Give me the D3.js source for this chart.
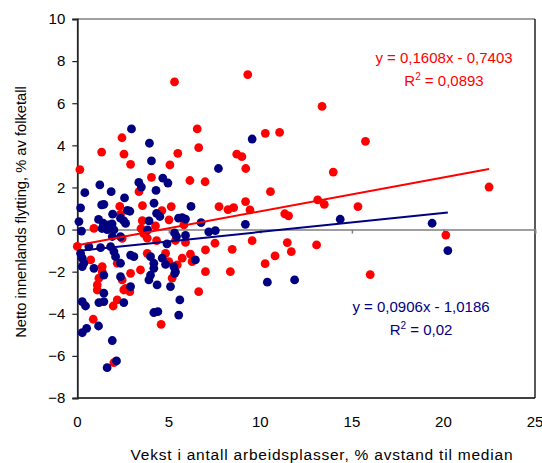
<!DOCTYPE html>
<html><head><meta charset="utf-8">
<script src="https://cdn.jsdelivr.net/npm/d3@7"></script>
<style>body{margin:0;background:#fff}svg{display:block;font-family:Arial,"Liberation Sans",sans-serif}</style>
</head><body>
<svg id="c" width="542" height="463"></svg>
<script>
const xTicks = [0,5,10,15,20,25];
const yTicks = [-8,-6,-4,-2,0,2,4,6,8,10];
const xLabel = "Vekst i antall arbeidsplasser, % avstand til median";
const yLabel = "Netto innenlands flytting, % av folketall";

const redX = [0.14,5.31,9.31,2.44,6.55,6.63,1.33,2.55,5.49,2.91,5.06,8.71,8.99,9.2,4.05,6.15,6.98,3.37,3.56,5.13,7.74,8.23,8.54,9.19,9.43,2.32,4.62,2.36,5.01,10.27,11.05,13.37,15.74,13.98,10.55,22.49,13.13,13.49,15.33,11.33,11.54,5.82,4.27,3.48,0.91,3.63,3.82,4.33,2.45,5.36,5.91,7.52,9.55,0.0,11.47,11.69,13.07,10.8,10.26,16.0,20.13,7.0,8.46,6.18,5.73,6.27,5.0,5.46,5.18,7.0,8.36,6.63,0.73,2.18,1.36,1.36,1.18,1.09,3.82,4.82,3.45,2.91,2.45,2.64,1.09,2.54,2.87,2.18,1.96,4.58,0.87,2.0,3.55];
const redY = [2.85,7.01,7.36,4.36,4.78,3.89,3.68,3.58,3.62,3.10,3.07,3.58,3.46,2.9,2.48,2.33,2.27,1.8,1.14,1.09,1.09,0.95,1.04,1.33,0.93,1.10,0.9,0.72,0.46,4.57,4.62,5.85,4.19,2.73,1.8,2.02,1.41,1.2,1.09,0.75,0.65,0.22,0.17,0.05,0.06,-0.19,-0.41,-0.53,-0.42,-0.52,-0.61,-0.65,-0.53,-0.8,-0.62,-1.05,-0.73,-1.25,-1.62,-2.14,-0.26,-0.97,-0.94,-1.17,-1.36,-1.52,-1.52,-1.68,-2.31,-2.0,-2.0,-2.95,-1.44,-1.6,-1.76,-2.0,-2.31,-2.63,-1.13,-1.13,-1.92,-2.08,-2.39,-2.79,-2.87,-2.87,-2.95,-3.34,-3.63,-4.5,-4.26,-6.32,0.42];

const blueX = [2.96,3.94,9.55,4.05,7.71,4.67,4.95,1.23,0.41,1.85,3.36,3.5,4.3,2.58,4.19,1.33,1.45,0.18,6.21,2.74,2.87,1.93,4.33,4.51,0.09,1.16,1.42,1.72,1.9,2.36,2.54,2.64,1.35,1.63,2.0,0.23,3.92,3.84,5.53,5.73,5.91,6.76,5.31,5.42,5.91,7.18,7.54,9.18,14.36,19.38,20.24,10.38,11.87,1.91,4.9,0.63,1.27,1.82,0.18,0.27,0.36,0.27,0.91,2.0,2.09,2.36,1.45,2.91,3.09,4.0,4.18,4.18,4.0,3.91,4.36,2.36,2.91,1.45,4.64,6.45,4.82,5.27,5.36,5.32,5.09,0.27,0.45,1.18,1.45,2.54,4.18,4.4,1.16,0.27,0.51,1.91,2.14,1.63,5.6,5.54,2.36];
const blueY = [4.78,4.1,4.3,3.26,2.9,2.44,2.21,2.12,1.75,1.8,2.24,2.02,1.86,1.5,1.25,1.17,1.2,1.03,1.1,0.91,0.87,0.73,0.77,0.62,0.38,0.48,0.3,0.22,0.27,0.54,0.41,0.29,0.05,0.0,-0.02,-0.07,0.41,-0.02,0.54,0.57,0.5,0.33,-0.16,-0.33,-0.28,-0.11,-0.05,0.25,0.49,0.3,-1.0,-2.5,-2.39,-0.33,-0.68,-0.81,-0.86,-0.81,-1.13,-1.36,-1.6,-1.76,-1.84,-1.05,-1.29,-1.6,-2.16,-1.21,-1.29,-1.29,-1.6,-1.84,-2.16,-2.39,-2.63,-2.24,-2.71,-3.02,-1.36,-1.44,-1.65,-1.76,-2.0,-2.08,-2.71,-3.42,-3.63,-3.47,-3.42,-3.47,-3.94,-3.9,-4.58,-4.9,-4.69,-5.27,-6.24,-6.56,-3.34,-4.06,-0.34];

const redFit = {slope:0.1608, intercept:-0.7403, eq:"y = 0,1608x - 0,7403", r2:"0,0893"};
const blueFit = {slope:0.0906, intercept:-1.0186, eq:"y = 0,0906x - 1,0186", r2:"0,02"};

const RED = "#ff0000", BLUE = "#000080";
const FS = 15;
const svg = d3.select("#c");
const L = 77.3, R = 535, T = 19, B = 398;
const x = d3.scaleLinear().domain([0,25]).range([L,R]);
const y = d3.scaleLinear().domain([-8,10]).range([B,T]);

// plot border
svg.append("line").attr("x1",L).attr("x2",R).attr("y1",T).attr("y2",T).attr("stroke","#808080").attr("stroke-width",1.5);
svg.append("line").attr("x1",R).attr("x2",R).attr("y1",T).attr("y2",B).attr("stroke","#000").attr("stroke-width",1.3);
svg.append("line").attr("x1",L).attr("x2",R).attr("y1",B).attr("y2",B).attr("stroke","#000").attr("stroke-width",1.3);

// zero line with ticks (x axis)
const xAxis = d3.axisBottom(x).tickValues(xTicks).tickSize(4).tickFormat("");
const gx = svg.append("g").attr("transform",`translate(0,${y(0)})`).call(xAxis);
gx.selectAll("path,line").attr("stroke","#808080").attr("stroke-width",1.5);
// x tick labels at bottom
svg.append("g").selectAll("text").data(xTicks).join("text")
  .attr("x",d=>x(d)).attr("y",427).attr("text-anchor","middle")
  .attr("font-size",FS).attr("fill","#000").text(d=>d);

// y axis
const yAxis = d3.axisLeft(y).tickValues(yTicks).tickSize(5).tickPadding(7);
const gy = svg.append("g").attr("transform",`translate(${L},0)`).call(yAxis);
gy.select(".domain").attr("stroke","#222").attr("stroke-width",1.8);
gy.selectAll(".tick line").attr("stroke","#222").attr("stroke-width",1.2);
gy.selectAll(".tick text").attr("font-size",FS).attr("fill","#000").attr("font-family","Arial, 'Liberation Sans', sans-serif");

// labels
svg.append("text").attr("x",321.5).attr("y",460).attr("text-anchor","middle").attr("font-size",15.5)
  .attr("textLength",382).attr("lengthAdjust","spacing").text(xLabel);
svg.append("text").attr("transform","translate(26,212) rotate(-90)").attr("text-anchor","middle").attr("font-size",14.7).text(yLabel);

// points
function pts(xs, ys, col){
  svg.append("g").selectAll("circle").data(xs.map((d,i)=>[d,ys[i]])).join("circle")
    .attr("cx",d=>x(d[0])).attr("cy",d=>y(d[1])).attr("r",4.4).attr("fill",col);
}
pts(redX, redY, RED);
pts(blueX, blueY, BLUE);

// trend lines
function trend(xs, fit, col){
  const e = d3.extent(xs);
  svg.append("line").attr("x1",x(e[0])).attr("y1",y(fit.slope*e[0]+fit.intercept))
    .attr("x2",x(e[1])).attr("y2",y(fit.slope*e[1]+fit.intercept))
    .attr("stroke",col).attr("stroke-width",2);
}
trend(redX, redFit, RED);
trend(blueX, blueFit, BLUE);

// equations
function eq(fit, col, cx, cy){
  svg.append("text").attr("x",cx).attr("y",cy).attr("text-anchor","middle").attr("font-size",FS).attr("fill",col).text(fit.eq);
  const t = svg.append("text").attr("x",cx).attr("y",cy+23).attr("text-anchor","middle").attr("font-size",FS).attr("fill",col);
  t.append("tspan").text("R");
  t.append("tspan").attr("dy",-6).attr("font-size",10).text("2");
  t.append("tspan").attr("dy",6).text(" = " + fit.r2);
}
eq(redFit, RED, 444, 63);
eq(blueFit, BLUE, 421, 312);
</script>
</body></html>
